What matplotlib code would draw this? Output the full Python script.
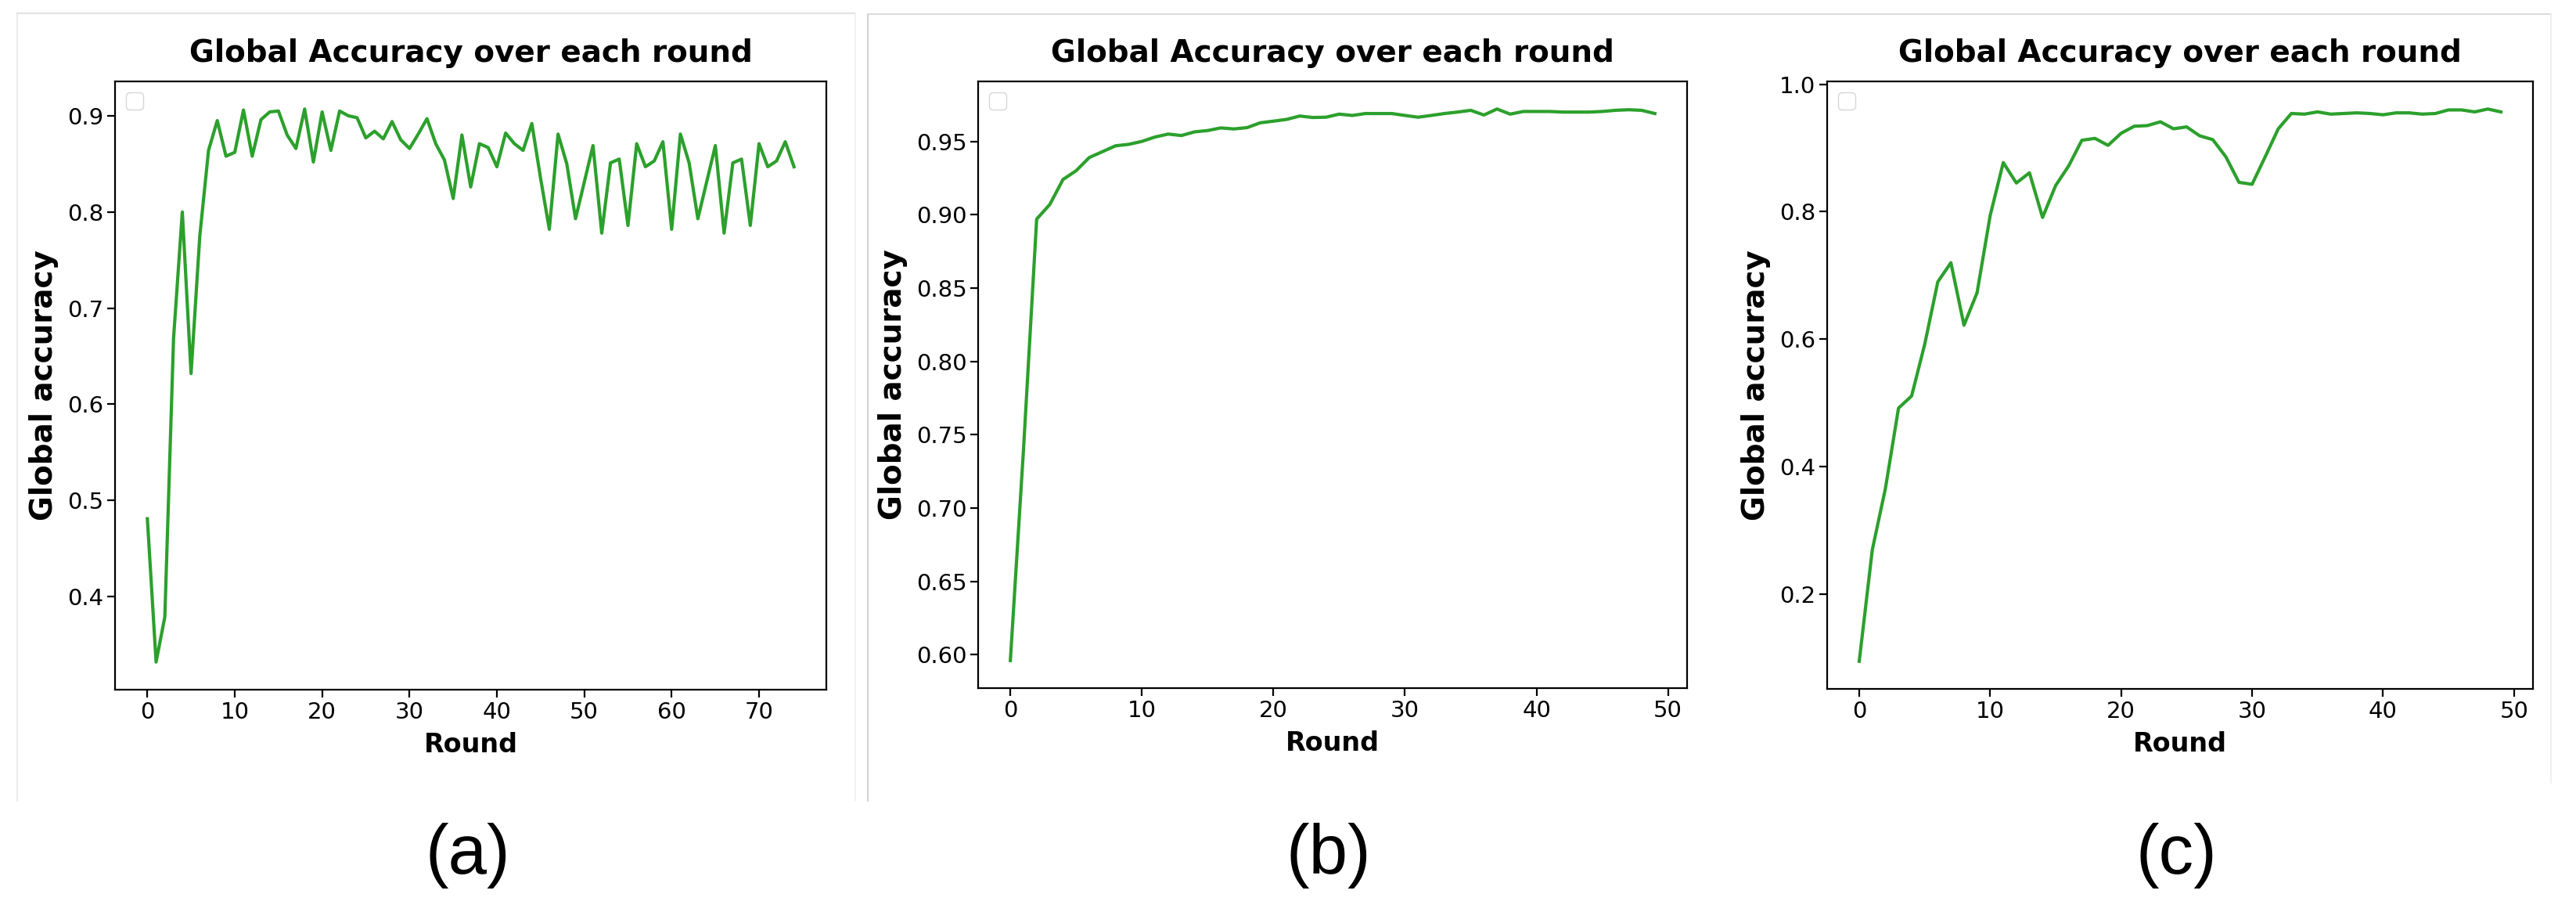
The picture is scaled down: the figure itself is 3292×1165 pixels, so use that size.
import numpy as np
import matplotlib
matplotlib.use("Agg")
import matplotlib.pyplot as plt
from matplotlib.lines import Line2D

# global accuracy per round
acc_a = [0.481, 0.332, 0.379, 0.669, 0.800, 0.632, 0.775, 0.864, 0.895, 0.858,
         0.862, 0.906, 0.858, 0.896, 0.904, 0.905, 0.880, 0.866, 0.907, 0.852,
         0.904, 0.864, 0.905, 0.900, 0.898, 0.877, 0.884, 0.876, 0.894, 0.875,
         0.866, 0.881, 0.897, 0.871, 0.854, 0.814, 0.880, 0.826, 0.871, 0.867,
         0.847, 0.882, 0.871, 0.864, 0.892, 0.835, 0.782, 0.881, 0.850, 0.793,
         0.831, 0.869, 0.778, 0.851, 0.855, 0.786, 0.871, 0.847, 0.853, 0.873,
         0.782, 0.881, 0.851, 0.793, 0.831, 0.869, 0.778, 0.851, 0.855, 0.786,
         0.871, 0.847, 0.853, 0.873, 0.847]
acc_b = [0.596, 0.740, 0.897, 0.907, 0.924, 0.930, 0.939, 0.943, 0.947, 0.948,
         0.950, 0.953, 0.955, 0.954, 0.9565, 0.9574, 0.9592, 0.9585, 0.9594, 0.9627,
         0.9638, 0.965, 0.9673, 0.9663, 0.9665, 0.9686, 0.9677, 0.969, 0.969, 0.969,
         0.9677, 0.9665, 0.9677, 0.969, 0.970, 0.9712, 0.968, 0.9721, 0.9686, 0.9704,
         0.9704, 0.9704, 0.970, 0.970, 0.970, 0.9704, 0.9712, 0.9716, 0.9712, 0.969]
acc_c = [0.095, 0.270, 0.366, 0.492, 0.511, 0.592, 0.690, 0.720, 0.622, 0.673,
         0.794, 0.877, 0.845, 0.861, 0.791, 0.841, 0.872, 0.912, 0.915, 0.904,
         0.923, 0.934, 0.935, 0.941, 0.930, 0.933, 0.919, 0.913, 0.886, 0.846,
         0.843, 0.886, 0.930, 0.954, 0.953, 0.9565, 0.953, 0.954, 0.955, 0.954,
         0.952, 0.955, 0.955, 0.953, 0.954, 0.9596, 0.9596, 0.9565, 0.961, 0.9565]

panel_tags = ["(a)", "(b)", "(c)"]
title = "Global Accuracy over each round"

W, H = 3292, 1165
fig = plt.figure(figsize=(W / 100, H / 100), dpi=100)

def fx(x):
    return x / W

def fy(y):
    return 1 - y / H

# axes boxes in pixels: left, right, top, bottom
boxes = [(147, 1056, 104, 881), (1250, 2156, 104, 879), (2335, 3237, 104, 880)]
tag_x = [598, 1698, 2781]

for data, (l, r, t, b), tag, tx in zip([acc_a, acc_b, acc_c], boxes, panel_tags, tag_x):
    ax = fig.add_axes([fx(l), fy(b), fx(r) - fx(l), (b - t) / H])
    ax.plot(np.arange(len(data)), data, color="#2ca02c", lw=3.0)
    ax.set_title(title, fontsize=28, fontweight="bold", pad=18)
    ax.set_xlabel("Round", fontsize=24, fontweight="bold", labelpad=8)
    ax.set_ylabel("Global accuracy", fontsize=28, fontweight="bold", labelpad=8)
    ax.tick_params(labelsize=21, length=7, width=1.6)
    for sp in ax.spines.values():
        sp.set_linewidth(1.6)
    ax.legend(handles=[], loc="upper left", fontsize=20)
    fig.text(fx(tx), fy(1093), tag, ha="center", va="center",
             fontsize=64, family="Liberation Sans")

# faint screenshot frames
frame = [
    ((22, 22), (17, 1023), "#e6e6e6"),
    ((22, 1093), (17, 17), "#dddddd"),
    ((1093, 1093), (17, 1023), "#f0f0f0"),
    ((1109, 1109), (18, 1023), "#c8c8c8"),
    ((1109, 3260), (18, 18), "#d6d6d6"),
    ((3260, 3260), (18, 1000), "#eeeeee"),
]
for xs, ys, c in frame:
    fig.add_artist(Line2D([fx(v) for v in xs], [fy(v) for v in ys],
                          transform=fig.transFigure, color=c, lw=1.2))

fig.savefig("out.png", dpi=100, facecolor="white")
